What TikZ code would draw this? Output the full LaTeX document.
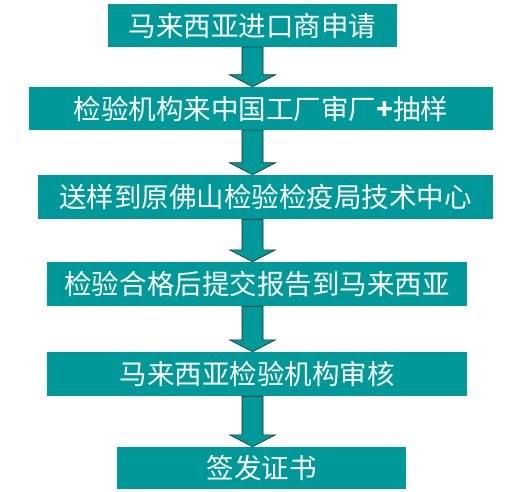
\documentclass[tikz,border=0pt]{standalone}
\usepackage{fontspec}
\newfontfamily\cjk{Noto Sans CJK SC}
\usetikzlibrary{calc}
\definecolor{teal1}{RGB}{0,153,153}
\tikzset{
  stepbox/.style={fill=teal1, draw=none, inner sep=0pt, text=white,
    font=\cjk\fontsize{27.5bp}{30bp}\selectfont, minimum height=43bp},
  flowarrow/.style={fill=teal1, draw=black!85, line width=0.6bp, line join=miter}
}
\newcommand{\flowarr}[2]{%
  \path let \p1=(#1.south -| ax), \p2=(#2.north -| ax) in
    [flowarrow] (\x1-10.5bp,\y1) -- (\x1+10.5bp,\y1) -- (\x1+10.5bp,\y2+12bp)
    -- (\x1+23bp,\y2+12bp) -- (\x1,\y2) -- (\x1-23bp,\y2+12bp)
    -- (\x1-10.5bp,\y2+12bp) -- cycle;}
\begin{document}
\begin{tikzpicture}[x=1bp,y=-1bp]
\useasboundingbox (0,0) rectangle (518,492);
\coordinate (ax) at (252.5,0);
\node[stepbox, minimum width=289bp, minimum height=43bp] (n1) at (252.5,25.5) {马来西亚进口商申请};
\node[stepbox, minimum width=464bp, minimum height=43bp] (n2) at (261,108.5) {检验机构来中国工厂审厂\textbf{+}抽样};
\node[stepbox, minimum width=455bp, minimum height=44bp] (n3) at (265.5,197) {送样到原佛山检验检疫局技术中心};
\node[stepbox, minimum width=420bp, minimum height=44bp] (n4) at (257,284) {检验合格后提交报告到马来西亚};
\node[stepbox, minimum width=420bp, minimum height=44bp] (n5) at (257,374) {马来西亚检验机构审核};
\node[stepbox, minimum width=289bp, minimum height=42bp] (n6) at (261.5,468) {签发证书};
\flowarr{n1}{n2}
\flowarr{n2}{n3}
\flowarr{n3}{n4}
\flowarr{n4}{n5}
\flowarr{n5}{n6}
\end{tikzpicture}
\end{document}
